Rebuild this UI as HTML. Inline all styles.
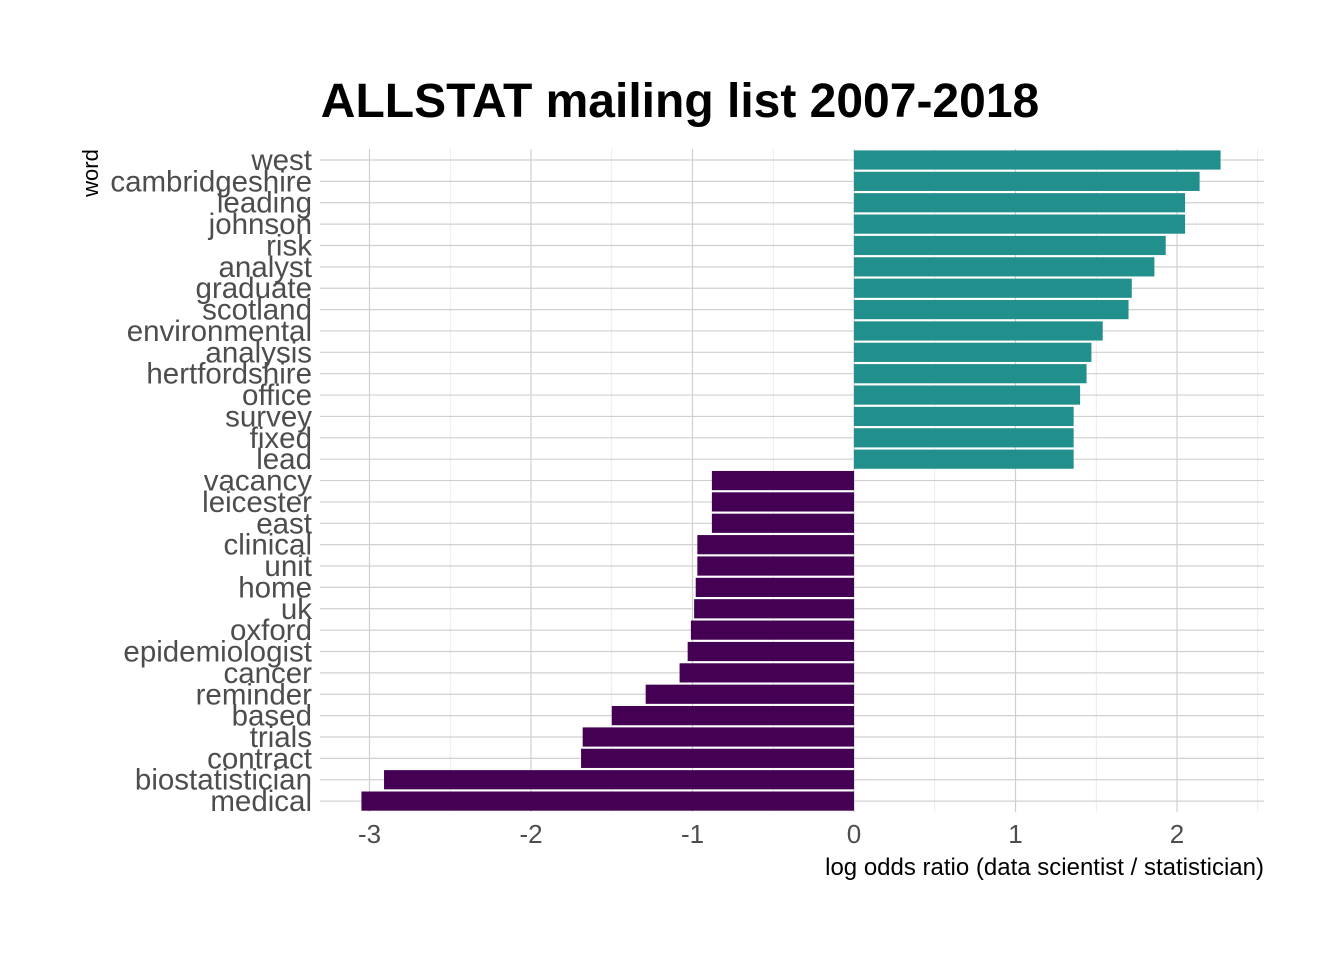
<!DOCTYPE html>
<html><head><meta charset="utf-8"><style>
body{margin:0;background:#fff;}
svg text{font-family:"Liberation Sans",Arial,sans-serif;}
</style></head><body>
<svg id="chart" width="1344" height="960" xmlns="http://www.w3.org/2000/svg">
<rect width="1344" height="960" fill="#fff"/>
<text x="680" y="117" text-anchor="middle" font-size="48" font-weight="bold" fill="#000">ALLSTAT mailing list 2007-2018</text>
<g id="grid"></g><g id="bars"></g><g id="ylabels"></g><g id="xticks"></g>
<text x="1264" y="875" text-anchor="end" font-size="24" fill="#000">log odds ratio (data scientist / statistician)</text>
<text transform="translate(98,173) rotate(-90)" text-anchor="middle" font-size="22" fill="#000">word</text>
</svg>
<script>
const words=["west","cambridgeshire","leading","johnson","risk","analyst","graduate","scotland","environmental","analysis","hertfordshire","office","survey","fixed","lead","vacancy","leicester","east","clinical","unit","home","uk","oxford","epidemiologist","cancer","reminder","based","trials","contract","biostatistician","medical"];
const values=[2.27,2.14,2.05,2.05,1.93,1.86,1.72,1.70,1.54,1.47,1.44,1.40,1.36,1.36,1.36,-0.88,-0.88,-0.88,-0.97,-0.97,-0.98,-0.99,-1.01,-1.03,-1.08,-1.29,-1.50,-1.68,-1.69,-2.91,-3.05];
const xTicks=[-3,-2,-1,0,1,2];
const NS="http://www.w3.org/2000/svg";
const x=v=>854+v*161.5;
const y=i=>160+i*21.37;
const L=320,R=1264,T=149,B=812;
function mk(t,a,p){const e=document.createElementNS(NS,t);for(const k in a)e.setAttribute(k,a[k]);p.appendChild(e);return e;}
const g=document.getElementById('grid');
for(let v=-3;v<=2.5;v+=0.5){
 const l=mk('line',{x1:x(v),x2:x(v),y1:T,y2:B,stroke:Number.isInteger(v)?'#d0d0d0':'#e6e6e6','stroke-width':Number.isInteger(v)?1.2:0.8},g);
 
 
}
words.forEach((w,i)=>{
 const l=mk('line',{x1:L,x2:R,y1:y(i),y2:y(i),stroke:'#d0d0d0','stroke-width':1.2},g);
 
 
});
const bg=document.getElementById('bars');
values.forEach((v,i)=>{
 const r=mk('rect',{x:Math.min(x(0),x(v)),y:y(i)-9.6,width:Math.abs(x(v)-x(0)),height:19.2,fill:v>0?'#21908C':'#440154'},bg);
 
 
});
const yl=document.getElementById('ylabels');
words.forEach((w,i)=>{
 const t=mk('text',{x:312,y:y(i)+10,'text-anchor':'end','font-size':29.5,fill:'#4d4d4d'},yl);
 t.textContent=w;
 
 
});
const xt=document.getElementById('xticks');
xTicks.forEach(v=>{
 const t=mk('text',{x:x(v),y:843,'text-anchor':'middle','font-size':26,fill:'#4d4d4d'},xt);
 t.textContent=v<0?'-'+Math.abs(v):String(v);
 
 
});
</script>
</body></html>
